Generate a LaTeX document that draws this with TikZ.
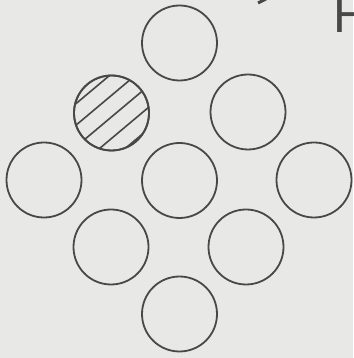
\documentclass[tikz,border=0pt]{standalone}
\usepackage{fontspec}
\setmainfont{Liberation Sans}
\usetikzlibrary{calc}
\definecolor{bgpaper}{RGB}{232,232,230}
\definecolor{ink}{RGB}{72,72,72}
\tikzset{
  ball/.style={circle, draw=ink, line width=1.8pt, minimum size=75pt, inner sep=0pt, outer sep=0pt},
  hatchline/.style={draw=ink, line width=1.6pt},
}
\begin{document}
\begin{tikzpicture}[x=1pt,y=1pt]
\fill[bgpaper] (0,0) rectangle (353,358);
\useasboundingbox (0,0) rectangle (353,358);
% circles (y = 358 - image y)
\node[ball] (top) at (179.5,315) {};
\node[ball] (ul)  at (111.5,245) {};
\node[ball] (ur)  at (248,246) {};
\node[ball] (l)   at (44,178) {};
\node[ball] (c)   at (179.5,177.5) {};
\node[ball] (r)   at (314,178) {};
\node[ball] (ll)  at (111,111) {};
\node[ball] (lr)  at (246,111) {};
\node[ball] (bot) at (179.5,44) {};
% hatching of the upper-left circle
\begin{scope}
  \clip (ul.center) circle (37.5);
  \foreach \p in {-30,-13.5,3,19.5,36}
    \draw[hatchline] ($(ul.center)+(-50:\p)+(40:-60)$) -- ++(40:120);
\end{scope}
\node[ball] at (ul.center) {};
% cut-off text fragments at the top
\node[anchor=base west, inner sep=0pt, text=ink, font=\fontsize{50}{50}\selectfont] (frag) at (333,325.3) {H};
\coordinate (s1) at (258,355);
\coordinate (s2) at (266,359);
\draw[ink, line width=3pt] (s1) -- (s2);
\end{tikzpicture}
\end{document}
